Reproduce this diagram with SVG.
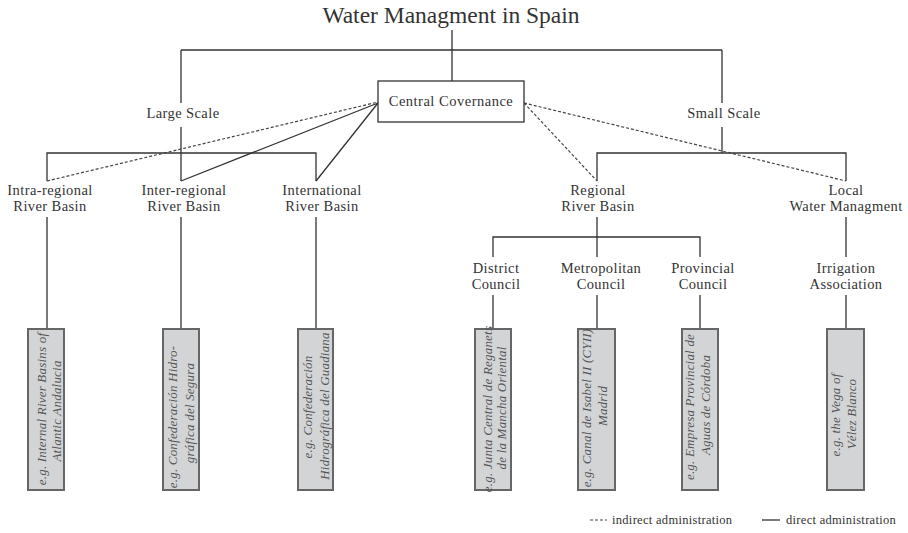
<svg xmlns="http://www.w3.org/2000/svg" width="908" height="533" viewBox="0 0 908 533">
<style>
.t{font-family:"Liberation Serif","Times New Roman",serif;fill:#333;}
.lbl{font-size:14.5px;letter-spacing:0.4px;text-anchor:middle;}
.ex{font-family:"Liberation Serif","Times New Roman",serif;font-style:italic;font-size:13px;fill:#555;text-anchor:middle;letter-spacing:0.2px;}
.box{fill:#d3d4d5;stroke:#666;stroke-width:2;}
.ln{fill:none;stroke:#333;stroke-width:1.3;}
.dl{fill:none;stroke:#444;stroke-width:1.2;stroke-dasharray:3 2;}
</style>
<rect width="908" height="533" fill="#fff"/>
<g id="title"><text class="t" x="451" y="23" font-size="23.5" text-anchor="middle">Water Managment in Spain</text></g>
<g id="connectors">
<path class="ln" d="M452,30V81 M181,50H722 M181,50V103 M181,127V181 M722,50V103 M722,127V153"/>
<path class="ln" d="M47,181V153H316V181 M597,181V153H846V181"/>
<path class="ln" d="M181,181L378,103 M316,181L378,103"/>
<path class="dl" d="M47,181L378,102 M524,103L597,181 M524,103L846,181"/>
<path class="ln" d="M47,217V329 M181,217V329 M316,217V329"/>
<path class="ln" d="M597,217V237 M493,257V237H700V257 M597,237V257 M846,217V257 M493,295V329 M597,295V329 M700,295V329 M846,295V329"/>
</g>
<g id="central"><rect x="378" y="81" width="146" height="41" fill="#fff" stroke="#333" stroke-width="1.3"/><text class="t" x="451" y="106" font-size="14.5" letter-spacing="0.5" text-anchor="middle">Central Covernance</text></g>
<g id="large"><text class="t lbl" x="183" y="118">Large Scale</text></g>
<g id="small"><text class="t lbl" x="724" y="118">Small Scale</text></g>
<g id="intra"><text class="t lbl" x="50" y="195">Intra-regional</text><text class="t lbl" x="50" y="211">River Basin</text></g>
<g id="inter"><text class="t lbl" x="184" y="195">Inter-regional</text><text class="t lbl" x="184" y="211">River Basin</text></g>
<g id="international"><text class="t lbl" x="322" y="195">International</text><text class="t lbl" x="322" y="211">River Basin</text></g>
<g id="regional"><text class="t lbl" x="598" y="195">Regional</text><text class="t lbl" x="598" y="211">River Basin</text></g>
<g id="local"><text class="t lbl" x="846" y="195">Local</text><text class="t lbl" x="846" y="211">Water Managment</text></g>
<g id="district"><text class="t lbl" x="496" y="273">District</text><text class="t lbl" x="496" y="289">Council</text></g>
<g id="metro"><text class="t lbl" x="601" y="273">Metropolitan</text><text class="t lbl" x="601" y="289">Council</text></g>
<g id="provincial"><text class="t lbl" x="703" y="273">Provincial</text><text class="t lbl" x="703" y="289">Council</text></g>
<g id="irrigation"><text class="t lbl" x="846" y="273">Irrigation</text><text class="t lbl" x="846" y="289">Association</text></g>
<g id="ex1"><rect class="box" x="28" y="329" width="36" height="161"/><text class="ex" transform="translate(46,409) rotate(-90)">e.g. Internal River Basins of</text><text class="ex" transform="translate(61,411) rotate(-90)">Atlantic Andalucia</text></g>
<g id="ex2"><rect class="box" x="163" y="329" width="36" height="161"/><text class="ex" transform="translate(177,417) rotate(-90)">e.g. Confederación Hidro-</text><text class="ex" transform="translate(194,413) rotate(-90)">gráfica del Segura</text></g>
<g id="ex3"><rect class="box" x="298" y="329" width="35" height="161"/><text class="ex" transform="translate(312,407) rotate(-90)">e.g. Confederación</text><text class="ex" transform="translate(329,406) rotate(-90)">Hidrográfica del Guadiana</text></g>
<g id="ex4"><rect class="box" x="475" y="329" width="36" height="161"/><text class="ex" transform="translate(492,409) rotate(-90)">e.g. Junta Central de Reganets</text><text class="ex" transform="translate(506,408) rotate(-90)">de la Mancha Oriental</text></g>
<g id="ex5"><rect class="box" x="578" y="329" width="37" height="161"/><text class="ex" transform="translate(591,408) rotate(-90)">e.g. Canal de Isabel II (CYII)</text><text class="ex" transform="translate(607,406) rotate(-90)">Madrid</text></g>
<g id="ex6"><rect class="box" x="682" y="329" width="36" height="161"/><text class="ex" transform="translate(694,407) rotate(-90)">e.g. Empresa Provincial de</text><text class="ex" transform="translate(710,405) rotate(-90)">Aguas de Córdoba</text></g>
<g id="ex7"><rect class="box" x="827" y="329" width="37" height="161"/><text class="ex" transform="translate(840,415) rotate(-90)">e.g. the Vega of</text><text class="ex" transform="translate(856,414) rotate(-90)">Vélez Blanco</text></g>
<g id="legend">
<path class="dl" d="M590,520H607" stroke-dasharray="2 1.5" stroke-width="1"/>
<text class="t" x="612" y="524" font-size="12.5" letter-spacing="0.3">indirect administration</text>
<path class="ln" d="M762,520H780" stroke-width="1.2"/>
<text class="t" x="786" y="524" font-size="12.5" letter-spacing="0.3">direct administration</text>
</g>
</svg>
